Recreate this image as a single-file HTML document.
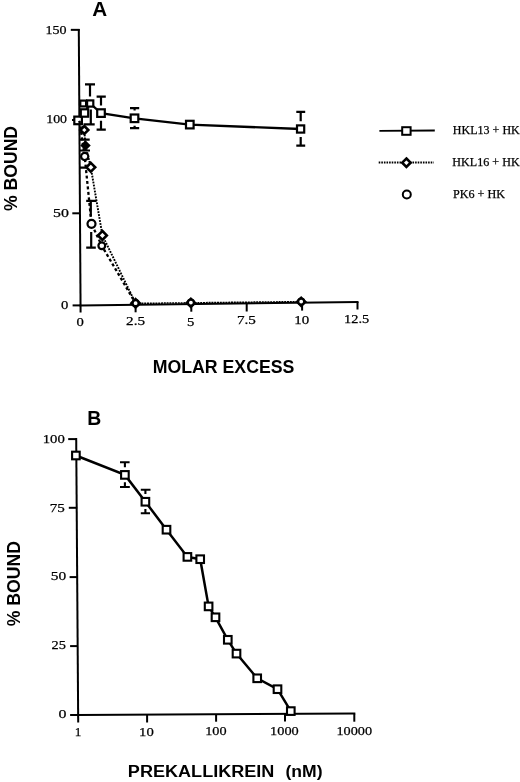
<!DOCTYPE html>
<html><head><meta charset="utf-8">
<style>
html,body{margin:0;padding:0;background:#fff;width:520px;height:782px;overflow:hidden}
svg{display:block}
.sf{font-family:"Liberation Serif",serif;fill:#000;stroke:#000;stroke-width:0.25px}
.ss{font-family:"Liberation Sans",sans-serif;font-weight:bold;fill:#000}
</style></head><body>
<svg width="520" height="782" viewBox="0 0 520 782">
<rect width="520" height="782" fill="#fff"/>
<!-- ================= CHART A ================= -->
<g stroke="#000" stroke-width="2" fill="none" stroke-linecap="butt">
  <line x1="78.8" y1="28.9" x2="80.6" y2="312.5"/>
  <line x1="70.8" y1="29.85" x2="79.6" y2="29.85"/>
  <line x1="72" y1="120" x2="79.5" y2="120"/>
  <line x1="72.3" y1="213.3" x2="80" y2="213.3"/>
  <line x1="72.6" y1="305.4" x2="80.4" y2="305.4"/>
  <line x1="79.5" y1="305.4" x2="358.5" y2="302"/>
  <line x1="135.6" y1="304" x2="135.6" y2="312.3"/>
  <line x1="191.3" y1="303.4" x2="191.3" y2="311.7"/>
  <line x1="246.7" y1="302.8" x2="246.7" y2="311.5"/>
  <line x1="302.1" y1="302.2" x2="302.1" y2="310.6"/>
  <line x1="357.5" y1="302" x2="357.5" y2="309.5"/>
</g>
<!-- dotted line along axis from 2.5 to 10 (HKL16) -->
<polyline points="135.8,303.4 191,302.8 301,301.6" stroke="#000" stroke-width="1.5" fill="none" stroke-dasharray="2,0.8"/>
<!-- HKL13 solid line -->
<polyline points="78.1,120.4 84.5,113 90.2,103.5 101,113.1 134.5,118.3 189.8,124.6 300.6,129" stroke="#000" stroke-width="2.3" fill="none"/>
<!-- error bars -->
<path stroke="#000" stroke-width="2.2" fill="none" d="
  M85,84.3H95 M90,84.3V96.5
  M96.6,96.7H105.8 M101,96.7V105.4 M101,120.8V129.6 M96.6,129.6H105.8
  M130,108.2H139.2 M134.6,108.2V110.5 M134.6,125.8V128.2 M130,128.2H139.2
  M296.3,111.9H305.2 M300.7,111.9V121.3 M300.7,136.9V145.6 M296.3,145.6H305.2
  M90.8,109.6V124.2 M83.5,124.4H94.7
  M79.7,139.6H89.7 M80,150.5H90 M80,167.7H86
  M86.2,200.8H96.5 M90.8,200.8V216.2
  M91.2,231.9V247.7 M86.2,247.7H95.8"/>
<!-- squares -->
<g stroke="#000" stroke-width="2.2" fill="#fff">
  <rect x="74.30" y="116.60" width="7.6" height="7.6"/>
  <rect x="80.30" y="100.60" width="5.8" height="5.8"/>
  <rect x="80.80" y="109.30" width="7.4" height="7.4"/>
  <rect x="87.10" y="100.40" width="6.2" height="6.2"/>
  <rect x="97.20" y="109.30" width="7.6" height="7.6"/>
  <rect x="130.70" y="114.50" width="7.6" height="7.6"/>
  <rect x="186.00" y="120.80" width="7.6" height="7.6"/>
  <rect x="297.00" y="125.40" width="7.2" height="7.2"/>
</g>
<!-- HKL16 dotted -->
<polyline points="79,121 84.3,130 85.5,145.5 90.8,167.3 102.4,235.4 135.6,303.3" stroke="#000" stroke-width="1.9" fill="none" stroke-dasharray="1.8,1.2"/>
<!-- PK6 dashed (round dots) -->
<polyline points="79.5,121 84.7,156.5 91.5,223.8 101.8,245.8 135.6,303.3" stroke="#000" stroke-width="2.3" fill="none" stroke-dasharray="3,2.5"/>
<!-- diamonds -->
<g stroke="#000" stroke-width="2.6" fill="#fff">
  <path d="M84.3,126.0L88.3,130L84.3,134.0L80.3,130Z"/>
  <path d="M85.5,142.1L88.9,145.5L85.5,148.9L82.1,145.5Z" fill="#000"/>
  <path d="M90.8,162.9L95.2,167.3L90.8,171.7L86.4,167.3Z"/>
  <path d="M102.4,231.0L106.8,235.4L102.4,239.8L98.0,235.4Z"/>
  <path d="M135.6,299.1L139.8,303.3L135.6,307.5L131.4,303.3Z"/>
  <path d="M190.9,298.8L194.9,302.8L190.9,306.8L186.9,302.8Z"/>
  <path d="M301.2,297.8L305.2,301.8L301.2,305.8L297.2,301.8Z"/>
</g>
<!-- circles -->
<g stroke="#000" stroke-width="2.2" fill="#fff">
  <circle cx="84.7" cy="156.5" r="3.6"/>
  <circle cx="91.5" cy="223.8" r="4"/>
  <circle cx="101.8" cy="245.8" r="3.4"/>
  <circle cx="135.6" cy="303.2" r="3.0"/>
  <circle cx="190.9" cy="302.6" r="3.0"/>
  <circle cx="301.2" cy="301.6" r="3.0"/>
</g>
<!-- legend -->
<line x1="379.4" y1="130.8" x2="434.8" y2="130.5" stroke="#000" stroke-width="1.8"/>
<line x1="378.7" y1="162.5" x2="433.8" y2="162.5" stroke="#000" stroke-dasharray="1.6,1.0" stroke-width="1.8"/>
<g stroke="#000" stroke-width="2" fill="#fff">
  <rect x="402.2" y="127.2" width="8.4" height="7.6"/>
  <path d="M406.4,158.5L410.6,162.7L406.4,166.9L402.2,162.7Z" stroke-width="2.6"/>
  <circle cx="406.8" cy="194.5" r="4"/>
</g>

<!-- ================= CHART B ================= -->
<g stroke="#000" stroke-width="2" fill="none">
  <line x1="76.2" y1="438.1" x2="78.2" y2="722.6"/>
  <line x1="68.2" y1="439.1" x2="77" y2="439.1"/>
  <line x1="68.8" y1="507.8" x2="77.2" y2="507.8"/>
  <line x1="69.6" y1="577.1" x2="77.5" y2="577.1"/>
  <line x1="70.1" y1="646.1" x2="77.7" y2="646.1"/>
  <line x1="70.1" y1="715" x2="78" y2="715"/>
  <line x1="77" y1="715" x2="355.3" y2="713.6"/>
  <line x1="147.1" y1="714.6" x2="147.1" y2="722.5"/>
  <line x1="216.1" y1="714.3" x2="216.1" y2="721.7"/>
  <line x1="285" y1="714" x2="285" y2="721.5"/>
  <line x1="354.3" y1="713.6" x2="354.3" y2="721.7"/>
</g>
<polyline points="75.9,455.5 124.9,474.9 145.4,501.75 166.5,529.7 187.4,556.9 200.2,559.2 208.6,606.4 215.5,617.3 227.8,639.8 236.5,653.6 257.2,678.3 277.5,689.2 290.8,711.1" stroke="#000" stroke-width="2.5" fill="none"/>
<path d="M120,462.2H129.6M124.9,462.2V467.3 M124.9,482.3V487M120,487H129.8 M140.8,489.7H150.5M145.4,489.7V493.9 M145.4,509.1V513.2M140.8,513.2H150" stroke="#000" stroke-width="2.1" fill="none"/>
<g stroke="#000" stroke-width="2.1" fill="#fff">
  <rect x="72.10" y="451.70" width="7.6" height="7.6"/>
  <rect x="121.10" y="471.10" width="7.6" height="7.6"/>
  <rect x="141.60" y="497.95" width="7.6" height="7.6"/>
  <rect x="162.70" y="525.90" width="7.6" height="7.6"/>
  <rect x="183.60" y="553.10" width="7.6" height="7.6"/>
  <rect x="196.40" y="555.40" width="7.6" height="7.6"/>
  <rect x="204.80" y="602.60" width="7.6" height="7.6"/>
  <rect x="211.70" y="613.50" width="7.6" height="7.6"/>
  <rect x="224.00" y="636.00" width="7.6" height="7.6"/>
  <rect x="232.70" y="649.80" width="7.6" height="7.6"/>
  <rect x="253.40" y="674.50" width="7.6" height="7.6"/>
  <rect x="273.70" y="685.40" width="7.6" height="7.6"/>
  <rect x="287.00" y="707.30" width="7.6" height="7.6"/>
</g>

<g style="will-change:transform">
<text id="tA" class="ss" x="92.32" y="16.22" font-size="20.20" textLength="14.94" lengthAdjust="spacingAndGlyphs">A</text>
<text id="ta150" class="sf" x="45.58" y="33.58" font-size="12.90" textLength="21.06" lengthAdjust="spacingAndGlyphs">150</text>
<text id="ta100" class="sf" x="46.21" y="123.03" font-size="12.90" textLength="20.79" lengthAdjust="spacingAndGlyphs">100</text>
<text id="ta50" class="sf" x="52.95" y="216.55" font-size="12.90" textLength="15.89" lengthAdjust="spacingAndGlyphs">50</text>
<text id="ta0" class="sf" x="60.99" y="308.99" font-size="12.90" textLength="7.34" lengthAdjust="spacingAndGlyphs">0</text>
<text id="tax0" class="sf" x="76.57" y="326.42" font-size="12.90" textLength="7.32" lengthAdjust="spacingAndGlyphs">0</text>
<text id="tax25" class="sf" x="126.12" y="325.47" font-size="12.90" textLength="19.02" lengthAdjust="spacingAndGlyphs">2.5</text>
<text id="tax5" class="sf" x="187.01" y="325.77" font-size="12.90" textLength="7.35" lengthAdjust="spacingAndGlyphs">5</text>
<text id="tax75" class="sf" x="236.95" y="324.28" font-size="12.90" textLength="18.97" lengthAdjust="spacingAndGlyphs">7.5</text>
<text id="tax10" class="sf" x="294.28" y="324.40" font-size="12.90" textLength="14.92" lengthAdjust="spacingAndGlyphs">10</text>
<text id="tax125" class="sf" x="344.14" y="323.44" font-size="12.90" textLength="25.13" lengthAdjust="spacingAndGlyphs">12.5</text>
<text id="tmolar" class="ss" x="152.63" y="373.01" font-size="17.90" textLength="141.80" lengthAdjust="spacingAndGlyphs">MOLAR EXCESS</text>
<text id="tl1" class="sf" x="452.87" y="133.69" font-size="12.70" textLength="66.91" lengthAdjust="spacingAndGlyphs">HKL13 + HK</text>
<text id="tl2" class="sf" x="452.36" y="165.82" font-size="12.70" textLength="67.26" lengthAdjust="spacingAndGlyphs">HKL16 + HK</text>
<text id="tl3" class="sf" x="452.99" y="197.62" font-size="12.70" textLength="52.03" lengthAdjust="spacingAndGlyphs">PK6 + HK</text>
<text id="tB" class="ss" x="87.29" y="425.17" font-size="20.90" textLength="14.00" lengthAdjust="spacingAndGlyphs">B</text>
<text id="tb100" class="sf" x="42.70" y="442.68" font-size="13.20" textLength="22.08" lengthAdjust="spacingAndGlyphs">100</text>
<text id="tb75" class="sf" x="49.78" y="511.52" font-size="13.20" textLength="15.10" lengthAdjust="spacingAndGlyphs">75</text>
<text id="tb50" class="sf" x="50.71" y="580.23" font-size="13.20" textLength="15.40" lengthAdjust="spacingAndGlyphs">50</text>
<text id="tb25" class="sf" x="51.51" y="649.16" font-size="13.20" textLength="14.39" lengthAdjust="spacingAndGlyphs">25</text>
<text id="tb0" class="sf" x="58.51" y="718.10" font-size="13.20" textLength="7.95" lengthAdjust="spacingAndGlyphs">0</text>
<text id="tbx1" class="sf" x="74.89" y="736.41" font-size="13.20" textLength="6.63" lengthAdjust="spacingAndGlyphs">1</text>
<text id="tbx10" class="sf" x="139.07" y="735.52" font-size="13.20" textLength="14.67" lengthAdjust="spacingAndGlyphs">10</text>
<text id="tbx100" class="sf" x="205.18" y="735.01" font-size="13.20" textLength="21.35" lengthAdjust="spacingAndGlyphs">100</text>
<text id="tbx1000" class="sf" x="270.11" y="735.18" font-size="13.20" textLength="28.64" lengthAdjust="spacingAndGlyphs">1000</text>
<text id="tbx10000" class="sf" x="336.48" y="735.24" font-size="13.20" textLength="35.66" lengthAdjust="spacingAndGlyphs">10000</text>
<text id="tprek" class="ss" x="127.88" y="776.70" font-size="17.20" textLength="146.54" lengthAdjust="spacingAndGlyphs">PREKALLIKREIN</text>
<text id="tnm" class="ss" x="285.44" y="776.60" font-size="17.20" textLength="37.04" lengthAdjust="spacingAndGlyphs">(nM)</text>
<text id="rA" class="ss" font-size="17.80" textLength="85.00" lengthAdjust="spacingAndGlyphs" transform="translate(16.62,210.92) rotate(-90)">% BOUND</text>
<text id="rB" class="ss" font-size="17.80" textLength="85.29" lengthAdjust="spacingAndGlyphs" transform="translate(19.52,626.23) rotate(-90)">% BOUND</text>
</g>
</svg>
</body></html>
